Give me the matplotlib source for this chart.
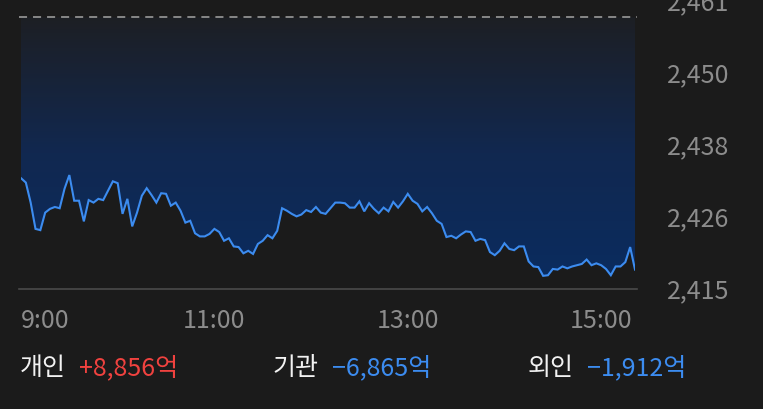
import numpy as np
import matplotlib
matplotlib.use('Agg')
import matplotlib.pyplot as plt
from matplotlib.colors import LinearSegmentedColormap
from matplotlib.transforms import ScaledTranslation

plt.rcParams['font.family'] = ['Noto Sans CJK KR', 'DejaVu Sans']
plt.rcParams['lines.scale_dashes'] = False

# 코스피 당일 (3분 간격, 9:00 부터)
prices = [2432.7, 2432.0, 2428.8, 2424.6, 2424.4, 2427.2, 2427.8, 2428.1, 2427.9, 2431.0,
          2433.2, 2429.1, 2429.1, 2425.8, 2429.2, 2428.8, 2429.4, 2429.2, 2430.7, 2432.2,
          2431.9, 2427.0, 2429.4, 2425.0, 2427.2, 2429.9, 2431.1, 2430.0, 2428.8, 2430.3,
          2430.2, 2428.3, 2428.8, 2427.5, 2425.6, 2425.9, 2423.9, 2423.4, 2423.4, 2423.8,
          2424.6, 2424.1, 2422.7, 2423.1, 2421.8, 2421.7, 2420.7, 2421.1, 2420.6, 2422.2,
          2422.7, 2423.6, 2423.1, 2424.3, 2427.9, 2427.5, 2427.0, 2426.6, 2426.9, 2427.6,
          2427.3, 2428.1, 2427.2, 2427.0, 2427.9, 2428.8, 2428.8, 2428.7, 2428.0, 2428.0,
          2429.0, 2427.4, 2428.7, 2427.8, 2427.1, 2428.0, 2427.4, 2428.9, 2428.0, 2429.0,
          2430.2, 2429.1, 2428.6, 2427.4, 2428.1, 2427.1, 2425.9, 2425.4, 2423.3, 2423.5,
          2423.1, 2423.7, 2424.2, 2424.1, 2422.7, 2423.0, 2422.8, 2420.9, 2420.4, 2421.1,
          2422.3, 2421.4, 2421.2, 2421.8, 2421.8, 2419.4, 2418.6, 2418.5, 2417.1, 2417.2,
          2418.2, 2418.1, 2418.6, 2418.3, 2418.6, 2418.8, 2419.0, 2419.7, 2418.8, 2419.1,
          2418.8, 2418.2, 2417.2, 2418.6, 2418.6, 2419.3, 2421.7, 2418.1]
prev_close = 2458.4

y_ticks = [2415, 2426.5, 2438, 2449.5, 2461]
y_labels = ['2,415', '2,426', '2,438', '2,450', '2,461']
x_ticks = [0, 120, 240, 360]
x_labels = ['9:00', '11:00', '13:00', '15:00']

investors = ['개인', '기관', '외인']
net_buy = ['+8,856억', '−6,865억', '−1,912억']

bg = '#1b1b1b'
blue = '#3c8cf0'
red = '#f0423f'

minutes = np.arange(len(prices)) * 3

fig = plt.figure(figsize=(7.63, 4.10), dpi=100, facecolor=bg)
ax = fig.add_axes([21 / 763, 1 - 290 / 410, 614 / 763, 288 / 410])
ax.set_facecolor(bg)
ax.set_xlim(minutes[0], minutes[-1])
ax.set_ylim(2415, 2461)

# gradient fill between previous close and price
poly = ax.fill_between(minutes, prices, prev_close, facecolor='none', edgecolor='none')
cmap = LinearSegmentedColormap.from_list('g', ['#0a2c60', '#112850', '#1d1f24'])
grad = np.linspace(0, 1, 256).reshape(-1, 1)
im = ax.imshow(grad, cmap=cmap, aspect='auto', origin='lower',
               extent=[minutes[0], minutes[-1], 2415, prev_close], zorder=1)
im.set_clip_path(poly.get_paths()[0], transform=ax.transData)

ax.plot(minutes, prices, color=blue, lw=1.5, zorder=3, solid_joinstyle='miter')

# 전일 종가 점선, 하단 기준선
ax.plot([-0.003, 1.003], [(prev_close - 2415) / 46] * 2, transform=ax.transAxes,
        color='#9a9a9a', lw=1.2, dashes=(5.8, 4.3), clip_on=False, zorder=2)
ax.plot([-0.003, 1.003], [0, 0], transform=ax.transAxes,
        color='#4a4a4a', lw=1.2, clip_on=False, zorder=2)

for s in ax.spines.values():
    s.set_visible(False)

ax.yaxis.tick_right()
ax.set_yticks(y_ticks, y_labels)
ax.set_xticks(x_ticks, x_labels)
ax.tick_params(length=0, colors='#8c8c8c', labelsize=18)
ax.tick_params(axis='y', pad=23)
ax.tick_params(axis='x', pad=13)
ax.get_xticklabels()[0].set_horizontalalignment('left')
for lbl in ax.get_yticklabels():
    lbl.set_transform(lbl.get_transform() + ScaledTranslation(0, 0.02, fig.dpi_scale_trans))

xs = [20, 273, 528]
for i in range(3):
    fig.text(xs[i] / 763, 1 - 368 / 410, investors[i], color='#f2f2f2', fontsize=18,
             ha='left', va='center')
    fig.text((xs[i] + 59) / 763, 1 - 368 / 410, net_buy[i],
             color=red if net_buy[i].startswith('+') else blue, fontsize=18,
             ha='left', va='center')

plt.savefig('out.png', dpi=100, facecolor=bg)
